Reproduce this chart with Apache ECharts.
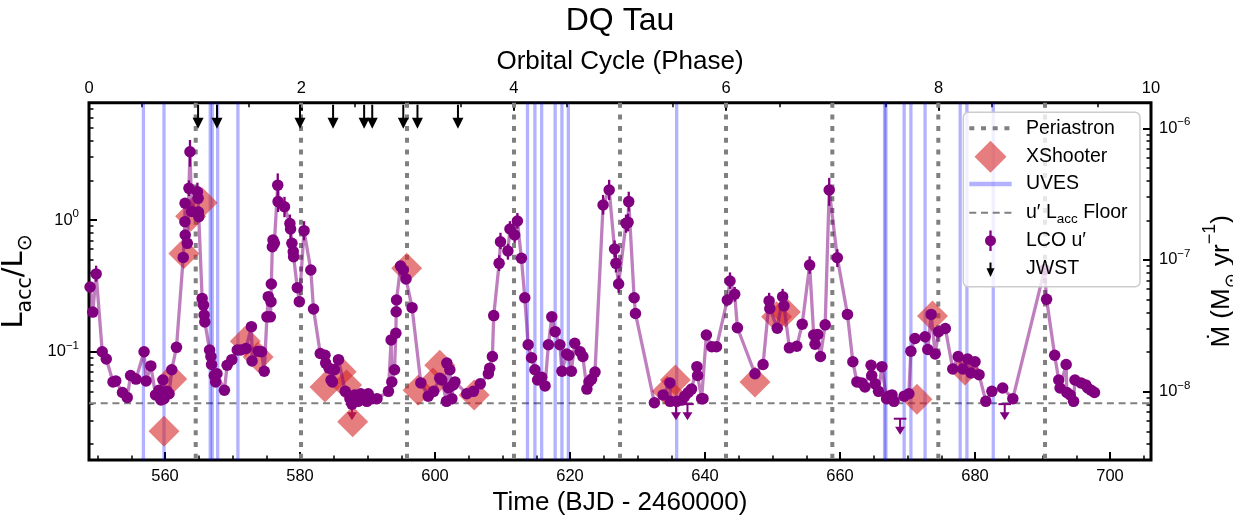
<!DOCTYPE html>
<html><head><meta charset="utf-8">
<script src="https://cdn.jsdelivr.net/npm/echarts@6/dist/echarts.min.js"></script>
<style>html,body{margin:0;padding:0;background:#fff}#chart{width:1233px;height:515px}</style>
</head><body><div id="chart"></div>
<script>
// ================= DATA =================
// LCO u' accretion luminosity points: [time (BJD-2460000), Lacc/Lsun]
const lcoPoints = [
[548.9,0.31],[549.3,0.20],[549.8,0.39],[550.7,0.10],[551.3,0.088],[552.3,0.059],[552.7,0.060],[553.7,0.049],[554.4,0.045],[554.9,0.066],[555.7,0.062],[556.9,0.10],[557.2,0.060],[557.9,0.078],[558.6,0.047],[559.1,0.051],[559.4,0.043],[559.7,0.061],[559.85,0.044],[560.3,0.050],[560.6,0.048],[561.0,0.073],[561.7,0.108],
[562.7,0.52],[562.95,0.97],[562.97,1.34],[563.0,0.77],[563.3,0.665],[563.55,1.74],[563.7,3.3],[563.95,1.16],[564.8,1.64],[564.9,1.46],[564.95,1.15],[565.0,1.06],[565.5,0.254],[565.7,0.226],[565.8,0.19],[565.9,0.168],
[566.6,0.103],[566.8,0.092],[566.9,0.080],[567.3,0.066],[567.5,0.059],[567.7,0.068],[568.8,0.051],[569.2,0.079],[569.9,0.087],[570.7,0.103],[571.2,0.103],[572.0,0.106],[572.8,0.155],[572.9,0.085],[573.8,0.101],[574.3,0.10],[574.7,0.071],
[575.1,0.184],[575.3,0.262],[575.6,0.184],[575.7,0.24],[575.75,0.327],[575.9,0.627],[576.0,0.705],[576.2,0.665],[576.7,1.84],[576.75,1.38],[577.7,1.26],[578.5,0.94],[578.6,0.854],[578.8,0.665],[579.0,0.575],[579.05,0.526],[579.6,0.306],[579.9,0.24],[580.6,0.83],[581.6,0.417],[582.0,0.211],
[583.0,0.097],[583.7,0.094],[583.8,0.082],[584.3,0.075],[584.6,0.061],[584.8,0.059],[585.1,0.073],[585.7,0.087],[586.7,0.050],[587.4,0.044],[587.7,0.040],[588.1,0.047],[588.6,0.042],[589.0,0.048],[589.4,0.044],[589.9,0.042],[590.1,0.048],[590.6,0.044],[591.4,0.044],
[593.1,0.050],[593.5,0.123],[593.6,0.059],[594.0,0.073],[594.2,0.138],[594.25,0.201],[594.3,0.247],[594.9,0.447],[595.3,0.417],[595.7,0.357],[596.6,0.216],[597.9,0.058],
[599.0,0.046],[599.8,0.050],[600.7,0.063],[601.0,0.061],[601.7,0.042],[601.75,0.082],[602.0,0.053],[602.2,0.073],[602.5,0.044],[602.7,0.056],[602.95,0.059],[604.7,0.048],[605.7,0.050],[606.7,0.057],[607.9,0.068],[608.1,0.075],[608.5,0.092],[608.7,0.188],
[609.5,0.469],[609.7,0.684],[610.8,0.582],[611.1,0.854],[611.8,0.77],[612.2,0.983],[612.8,0.512],[613.3,0.257],
[613.8,0.113],[614.3,0.090],[614.8,0.073],[615.2,0.061],[615.8,0.064],[616.3,0.055],[616.8,0.113],[617.3,0.184],[617.8,0.142],[618.5,0.113],[618.8,0.071],[619.5,0.096],[619.8,0.094],[620.2,0.071],[620.7,0.116],[621.5,0.10],[621.9,0.092],[622.5,0.052],[622.8,0.059],[623.2,0.062],[623.7,0.070],
[624.9,1.30],[625.8,1.69],[626.6,0.602],[626.8,0.469],[627.2,0.327],[628.3,0.944],[628.6,0.96],[628.7,1.38],[629.5,0.257],[629.7,0.195],
[632.5,0.041],[633.8,0.047],[634.8,0.058],[634.85,0.042],[635.8,0.042],[636.6,0.043],[637.0,0.046],[637.5,0.049],[638.0,0.052],[638.8,0.077],[638.9,0.066],[639.5,0.044],[639.7,0.044],[640.2,0.134],[641.0,0.109],[641.7,0.109],
[643.3,0.247],[643.7,0.344],[644.4,0.273],[644.8,0.152],[647.4,0.068],[648.6,0.080],
[649.5,0.243],[649.6,0.213],[650.7,0.151],[651.5,0.262],[651.7,0.223],[652.5,0.107],[653.6,0.110],[654.4,0.162],[655.5,0.455],[656.1,0.134],[656.3,0.114],[656.7,0.135],[657.1,0.092],[657.8,0.16],[658.4,1.69],[659.6,0.517],
[661.1,0.192],[661.9,0.084],[662.5,0.059],[663.2,0.058],[663.7,0.054],[664.6,0.079],[664.7,0.066],[665.2,0.057],[665.7,0.050],[666.2,0.077],[666.9,0.044],[667.2,0.046],[667.7,0.047],[668.0,0.042],[669.5,0.046],[670.2,0.048],[670.5,0.101],[671.1,0.126],
[672.6,0.13],[673.0,0.104],[673.5,0.192],[674.1,0.096],[674.6,0.142],[675.6,0.15],[676.7,0.074],[677.5,0.092],[678.2,0.074],[678.9,0.088],[679.4,0.069],[680.0,0.084],[680.6,0.067],[681.6,0.042],[682.5,0.050],[684.1,0.053],[685.6,0.044],
[690.3,0.42],[690.6,0.25],[691.8,0.094],[692.4,0.061],[692.6,0.053],[693.5,0.080],[693.6,0.049],[694.1,0.047],[694.6,0.042],[694.8,0.061],[695.7,0.058],[696.4,0.056],[696.7,0.053],[697.2,0.051],[697.7,0.049]
];
// visible LCO error bars: [time, low, high]
const lcoErrorBars = [
[549.8,0.34,0.45],[563.55,1.52,2.0],[563.7,2.54,4.05],[564.8,1.40,1.92],[576.7,1.50,2.26],[576.75,1.15,1.65],[577.7,1.05,1.50],[578.5,0.80,1.10],[578.6,0.73,1.0],[580.6,0.70,0.98],
[609.5,0.41,0.54],[609.7,0.60,0.80],[610.8,0.50,0.66],[611.1,0.74,0.98],[611.8,0.67,0.88],[612.2,0.86,1.13],
[624.9,1.10,1.55],[625.8,1.42,2.02],[626.6,0.52,0.70],[626.8,0.40,0.55],[627.2,0.28,0.38],[628.3,0.80,1.10],[628.6,0.82,1.12],[628.7,1.16,1.64],
[643.7,0.30,0.40],[644.4,0.24,0.31],[649.5,0.21,0.28],[651.5,0.23,0.30],[655.5,0.39,0.53],[658.4,1.28,2.09],[659.6,0.44,0.60]
];
// LCO upper limits: [time, Lacc limit]
const lcoUpperLimits = [[587.7,0.040],[635.7,0.040],[637.4,0.040],[668.9,0.031],[684.4,0.040]];
// XShooter: [time, Lacc]
const xshooterPoints = [
[559.85,0.0249],[561.0,0.062],[562.8,0.558],[563.8,1.07],[565.5,1.35],[571.9,0.12],[573.8,0.091],
[583.7,0.054],[586.1,0.0705],[586.9,0.056],[587.8,0.0294],[595.8,0.43],[597.5,0.051],[599.7,0.058],[600.7,0.079],[605.8,0.047],
[634.4,0.05],[635.6,0.061],[647.4,0.059],[650.6,0.184],[651.9,0.2],[671.4,0.0435],[673.7,0.187],[678.5,0.0726]
];
const uvesTimes = [556.8,559.85,566.7,567.0,567.8,570.8,613.7,614.8,615.8,617.8,618.8,619.75,635.8,666.6,666.8,669.5,670.5,672.6,677.8,678.8,682.7];
const periastronTimes = [564.55,580.15,595.85,611.7,627.41,643.11,658.86,674.56,690.37];
const jwstTimes = [564.9,567.7,580.0,584.9,589.5,590.7,595.3,597.4,603.4];
const floorLacc = 0.0406;
// axes / ticks
const timeTicks = [560,580,600,620,640,660,680,700];
const timeMinorTicks = [550,555,565,570,575,585,590,595,605,610,615,625,630,635,645,650,655,665,670,675,685,690,695,705];
const phaseTicks = [0,2,4,6,8,10];
const laccTicks = [0.1,1];
const laccMinorTicks = [0.02,0.03,0.04,0.05,0.06,0.07,0.08,0.09,0.2,0.3,0.4,0.5,0.6,0.7,0.8,0.9,2,3,4,5,6,7];
const mdotTicks = [1e-8,1e-7,1e-6];
const mdotMinorTicks = [4e-9,5e-9,6e-9,7e-9,8e-9,9e-9,2e-8,3e-8,4e-8,5e-8,6e-8,7e-8,8e-8,9e-8,2e-7,3e-7,4e-7,5e-7,6e-7,7e-7,8e-7,9e-7];
const T_MIN = 548.74, T_MAX = 706.07;
const L_MIN = 0.01506, L_MAX = 7.777;
const MDOT_PER_LACC = 2.01e-7;

// ================= STYLE =================
const FONT = "'Liberation Sans', 'DejaVu Sans', sans-serif";
const MATHFONT = "'DejaVu Sans', sans-serif";
const PURPLE = '#800080';
const GRAY = '#808080';
const GRID = {left: 89, top: 102.7, width: 1062, height: 357.3};

function powLabel(v) {
  const e = Math.round(Math.log10(v));
  return '{m|10}{e|' + (e < 0 ? '\u2212' + (-e) : e) + '}';
}
const tickRich = {
  m: {fontSize: 16.5, fontFamily: FONT, color: '#000', lineHeight: 24, verticalAlign: 'middle'},
  e: {fontSize: 11.5, fontFamily: FONT, color: '#000', lineHeight: 13.6, verticalAlign: 'top'}
};
const leftNameRich = {
  n: {fontSize: 29, fontFamily: MATHFONT, color: '#000', lineHeight: 44, verticalAlign: 'middle'},
  s: {fontSize: 20.5, fontFamily: MATHFONT, color: '#000', lineHeight: 24, verticalAlign: 'bottom'}
};
const rightNameRich = {
  n: {fontSize: 26, fontFamily: FONT, color: '#000', lineHeight: 40, verticalAlign: 'middle'},
  s: {fontSize: 18, fontFamily: FONT, color: '#000', lineHeight: 22, verticalAlign: 'bottom'},
  p: {fontSize: 18, fontFamily: FONT, color: '#000', lineHeight: 22, verticalAlign: 'top'}
};
const majorTick = {show: true, inside: true, length: 8, lineStyle: {color: '#000', width: 2}};
const minorTickStyle = {show: true, inside: true, length: 4.5, lineStyle: {color: '#000', width: 1.5}};
const tickLabel = {fontSize: 16.5, fontFamily: FONT, color: '#000'};

function vline(color, width, dash) {
  return function (params, api) {
    const x = api.coord([api.value(0), 1])[0];
    const cs = params.coordSys;
    return {type: 'line', shape: {x1: x, y1: cs.y, x2: x, y2: cs.y + cs.height},
      style: {stroke: color, lineWidth: width, lineDash: dash, lineCap: 'butt'}};
  };
}

const chart = echarts.init(document.getElementById('chart'), null, {renderer: 'canvas', width: 1233, height: 515});
const sortedLco = lcoPoints.slice().sort((a, b) => a[0] - b[0]);

const option = {
  animation: false,
  backgroundColor: '#fff',
  grid: Object.assign({show: true, borderColor: '#000', borderWidth: 3, backgroundColor: 'transparent', containLabel: false, outerBoundsMode: 'none'}, GRID),
  xAxis: [
    {type: 'value', min: T_MIN, max: T_MAX, position: 'bottom',
      axisLine: {show: false}, splitLine: {show: false},
      axisTick: Object.assign({customValues: timeTicks}, majorTick),
      axisLabel: Object.assign({customValues: timeTicks, margin: 8}, tickLabel),
      name: 'Time (BJD - 2460000)', nameLocation: 'middle', nameGap: 25,
      nameTextStyle: {fontSize: 26, fontFamily: FONT, color: '#000'}},
    {type: 'value', min: 0, max: 10, interval: 2, position: 'top',
      axisLine: {show: false}, splitLine: {show: false},
      axisTick: majorTick, minorTick: Object.assign({splitNumber: 4}, minorTickStyle),
      axisLabel: Object.assign({margin: 6}, tickLabel),
      name: 'Orbital Cycle (Phase)', nameLocation: 'middle', nameGap: 20,
      nameTextStyle: {fontSize: 26, fontFamily: FONT, color: '#000'}},
    {type: 'value', min: T_MIN, max: T_MAX, position: 'bottom',
      axisLine: {show: false}, splitLine: {show: false}, axisLabel: {show: false},
      axisTick: Object.assign({customValues: timeMinorTicks}, minorTickStyle)}
  ],
  yAxis: [
    {type: 'log', logBase: 10, min: L_MIN, max: L_MAX, position: 'left',
      axisLine: {show: false}, splitLine: {show: false},
      axisTick: Object.assign({customValues: laccTicks}, majorTick),
      axisLabel: {customValues: laccTicks, formatter: powLabel, rich: tickRich, margin: 10},
      name: '{n|L}{s|acc}{n|/L}{s|\u2299}', nameLocation: 'middle', nameRotate: 90, nameGap: 39,
      nameTextStyle: {rich: leftNameRich}},
    {type: 'log', logBase: 10, min: L_MIN * MDOT_PER_LACC, max: L_MAX * MDOT_PER_LACC, position: 'right',
      axisLine: {show: false}, splitLine: {show: false},
      axisTick: Object.assign({customValues: mdotTicks}, majorTick),
      axisLabel: {customValues: mdotTicks, formatter: powLabel, rich: tickRich, margin: 8},
      name: '{n|\u1E40 (M}{s|\u2299}{n| yr}{p|\u22121}{n|)}', nameLocation: 'middle', nameRotate: 90, nameGap: 48,
      nameTextStyle: {rich: rightNameRich}},
    {type: 'log', logBase: 10, min: L_MIN, max: L_MAX, position: 'left',
      axisLine: {show: false}, splitLine: {show: false}, axisLabel: {show: false},
      axisTick: Object.assign({customValues: laccMinorTicks}, minorTickStyle)},
    {type: 'log', logBase: 10, min: L_MIN * MDOT_PER_LACC, max: L_MAX * MDOT_PER_LACC, position: 'right',
      axisLine: {show: false}, splitLine: {show: false}, axisLabel: {show: false},
      axisTick: Object.assign({customValues: mdotMinorTicks}, minorTickStyle)}
  ],
  series: [
    {type: 'custom', name: 'Periastron', xAxisIndex: 0, yAxisIndex: 0, silent: true,
      data: periastronTimes.map(t => [t]), encode: {x: 0},
      renderItem: vline(GRAY, 4, [5, 6.7])},
    {type: 'custom', name: 'Floor', xAxisIndex: 0, yAxisIndex: 0, silent: true,
      data: [[floorLacc]], encode: {y: 0},
      renderItem: function (params, api) {
        const cs = params.coordSys;
        const y = api.coord([T_MIN, api.value(0)])[1];
        return {type: 'line', shape: {x1: cs.x, y1: y, x2: cs.x + cs.width, y2: y},
          style: {stroke: GRAY, lineWidth: 2, lineDash: [7, 4.7]}};
      }},
    {type: 'line', name: 'LCO line', xAxisIndex: 0, yAxisIndex: 0, data: sortedLco,
      showSymbol: false, symbol: 'none', silent: true,
      lineStyle: {color: 'rgba(128,0,128,0.5)', width: 3.3}},
    {type: 'custom', name: 'UVES', xAxisIndex: 0, yAxisIndex: 0, silent: true,
      data: uvesTimes.map(t => [t]), encode: {x: 0},
      renderItem: vline('rgba(0,0,255,0.3)', 3.3, null)},
    {type: 'custom', name: 'Upper limits', xAxisIndex: 0, yAxisIndex: 0, silent: true,
      data: lcoUpperLimits, encode: {x: 0, y: 1},
      renderItem: function (params, api) {
        const p = api.coord([api.value(0), api.value(1)]);
        return {type: 'group', children: [
          {type: 'line', shape: {x1: p[0] - 6.3, y1: p[1], x2: p[0] + 6.3, y2: p[1]}, style: {stroke: PURPLE, lineWidth: 2}},
          {type: 'line', shape: {x1: p[0], y1: p[1], x2: p[0], y2: p[1] + 10}, style: {stroke: PURPLE, lineWidth: 2}},
          {type: 'polygon', shape: {points: [[p[0] - 5, p[1] + 8], [p[0] + 5, p[1] + 8], [p[0], p[1] + 16]]}, style: {fill: PURPLE}}
        ]};
      }},
    {type: 'scatter', name: 'XShooter', xAxisIndex: 0, yAxisIndex: 0, data: xshooterPoints,
      symbol: 'diamond', symbolSize: 31, silent: true,
      itemStyle: {color: 'rgba(214,39,40,0.6)', opacity: 1}},
    {type: 'custom', name: 'LCO err', xAxisIndex: 0, yAxisIndex: 0, silent: true,
      data: lcoErrorBars, encode: {x: 0, y: [1, 2]},
      renderItem: function (params, api) {
        const t = api.value(0);
        const a = api.coord([t, api.value(1)]), b = api.coord([t, api.value(2)]);
        return {type: 'line', shape: {x1: a[0], y1: a[1], x2: b[0], y2: b[1]}, style: {stroke: PURPLE, lineWidth: 2.3}};
      }},
    {type: 'scatter', name: "LCO u'", xAxisIndex: 0, yAxisIndex: 0, data: sortedLco,
      symbol: 'circle', symbolSize: 11.5, silent: true, itemStyle: {color: PURPLE, opacity: 1}},
    {type: 'custom', name: 'JWST', xAxisIndex: 0, yAxisIndex: 0, silent: true,
      data: jwstTimes.map(t => [t]), encode: {x: 0},
      renderItem: function (params, api) {
        const x = api.coord([api.value(0), 1])[0];
        const cs = params.coordSys;
        const top = cs.y + 2, tip = cs.y + 26;
        return {type: 'group', children: [
          {type: 'line', shape: {x1: x, y1: top, x2: x, y2: tip - 8}, style: {stroke: '#000', lineWidth: 2}},
          {type: 'polygon', shape: {points: [[x - 5.5, tip - 11], [x + 5.5, tip - 11], [x, tip]]}, style: {fill: '#000'}}
        ]};
      }}
  ],
  graphic: {elements: [
    {type: 'text', x: 620, y: 5, z: 100, style: {text: 'DQ Tau', fontSize: 32, fontFamily: FONT, fill: '#000', textAlign: 'center', textVerticalAlign: 'top'}},
    // legend box
    {type: 'rect', z: 100, shape: {x: 963.3, y: 112.3, width: 176.7, height: 174.4, r: 5},
      style: {fill: 'rgba(255,255,255,0.8)', stroke: '#cccccc', lineWidth: 1.5}},
    {type: 'line', z: 101, shape: {x1: 969.3, y1: 128.3, x2: 1011.7, y2: 128.3}, style: {stroke: GRAY, lineWidth: 4, lineDash: [5, 6.7]}},
    {type: 'polygon', z: 101, shape: {points: [[990.5, 140.7], [1006.5, 156.7], [990.5, 172.7], [974.5, 156.7]]}, style: {fill: 'rgba(214,39,40,0.6)'}},
    {type: 'line', z: 101, shape: {x1: 969.3, y1: 184, x2: 1011.7, y2: 184}, style: {stroke: 'rgba(0,0,255,0.3)', lineWidth: 4.5}},
    {type: 'line', z: 101, shape: {x1: 969.3, y1: 212.7, x2: 1011.7, y2: 212.7}, style: {stroke: GRAY, lineWidth: 2, lineDash: [7, 4.7]}},
    {type: 'line', z: 101, shape: {x1: 990.5, y1: 230.5, x2: 990.5, y2: 251}, style: {stroke: PURPLE, lineWidth: 2.3}},
    {type: 'circle', z: 101, shape: {cx: 990.5, cy: 240.7, r: 5.5}, style: {fill: PURPLE}},
    {type: 'line', z: 101, shape: {x1: 990.5, y1: 262.5, x2: 990.5, y2: 270}, style: {stroke: '#000', lineWidth: 2}},
    {type: 'polygon', z: 101, shape: {points: [[986.5, 268.3], [994.5, 268.3], [990.5, 277]]}, style: {fill: '#000'}},
    {type: 'text', z: 102, x: 1026, y: 128.3, style: {text: 'Periastron', fontSize: 19.5, fontFamily: FONT, fill: '#000', textVerticalAlign: 'middle'}},
    {type: 'text', z: 102, x: 1026, y: 156.7, style: {text: 'XShooter', fontSize: 19.5, fontFamily: FONT, fill: '#000', textVerticalAlign: 'middle'}},
    {type: 'text', z: 102, x: 1026, y: 184, style: {text: 'UVES', fontSize: 19.5, fontFamily: FONT, fill: '#000', textVerticalAlign: 'middle'}},
    {type: 'text', z: 102, x: 1026, y: 212.7, style: {text: '{a|u\u2032 L}{b|acc}{a| Floor}', fill: '#000', textVerticalAlign: 'middle',
      rich: {a: {fontSize: 19.5, fontFamily: FONT, lineHeight: 28, verticalAlign: 'middle'}, b: {fontSize: 13.5, fontFamily: FONT, lineHeight: 18, verticalAlign: 'bottom'}}}},
    {type: 'text', z: 102, x: 1026, y: 240.7, style: {text: 'LCO u\u2032', fontSize: 19.5, fontFamily: FONT, fill: '#000', textVerticalAlign: 'middle'}},
    {type: 'text', z: 102, x: 1026, y: 268.3, style: {text: 'JWST', fontSize: 19.5, fontFamily: FONT, fill: '#000', textVerticalAlign: 'middle'}}
  ]}
};
chart.setOption(option);
</script>
</body></html>
